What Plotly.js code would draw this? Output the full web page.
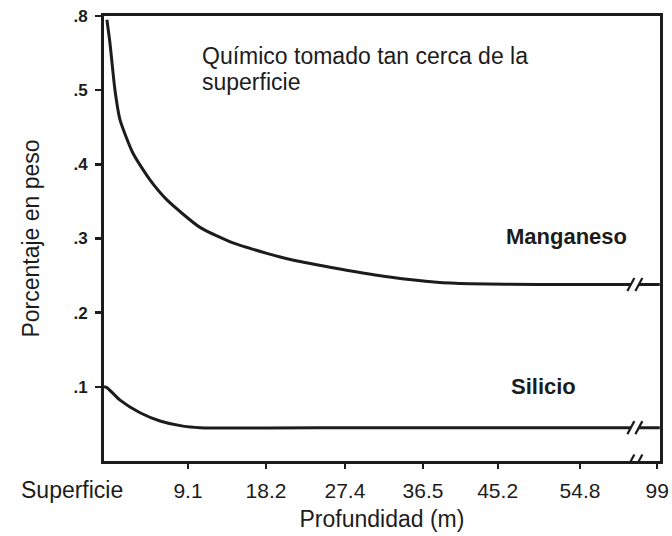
<!DOCTYPE html>
<html><head><meta charset="utf-8">
<script src="https://cdn.plot.ly/plotly-3.0.1.min.js"></script>
<style>body{margin:0;background:#fff}</style>
</head><body>
<div id="chart" style="width:672px;height:536px"></div>
<script>
// Depth (m, as placed on the drawn axis) and weight-percent values
const depthMn = [-0.35, 0.0, 0.59, 1.18, 2.69, 4.67, 6.65, 10.5, 14.35, 18.3, 21.3, 26.8, 32.6, 38.1, 42.0, 50.0, 61.2, 64.1];
const mnValues = [0.595, 0.564, 0.500, 0.460, 0.415, 0.379, 0.352, 0.315, 0.294, 0.280, 0.271, 0.259, 0.248, 0.241, 0.239, 0.238, 0.238, 0.238];
const depthSi = [-0.69, -0.35, 1.18, 3.51, 5.84, 8.52, 10.5, 30.0, 61.2, 64.1];
const siValues = [0.100, 0.099, 0.082, 0.065, 0.054, 0.047, 0.045, 0.045, 0.045, 0.045];

const xTickVals = [9.1, 18.2, 27.4, 36.5, 45.2, 54.8, 63.8];
const xTickText = ['9.1', '18.2', '27.4', '36.5', '45.2', '54.8', '99'];
const yTickVals = [0.1, 0.2, 0.3, 0.4, 0.5, 0.6];
const yTickText = ['.1', '.2', '.3', '.4', '.5', '.8'];
const breakDepth = 61.2;
const breakLevels = [0.238, 0.045, 0];

const ink = '#1c1c1c';
const FONT = 'Liberation Sans, Arial, sans-serif';

const traces = [
  {x: depthMn, y: mnValues, mode: 'lines', line: {color: ink, width: 3, shape: 'spline', smoothing: 0.6}, hoverinfo: 'skip', showlegend: false},
  {x: depthSi, y: siValues, mode: 'lines', line: {color: ink, width: 3, shape: 'spline', smoothing: 0.6}, hoverinfo: 'skip', showlegend: false}
];

const shapes = [];
breakLevels.forEach(function (lv) {
  // white gap
  shapes.push({type: 'rect', xref: 'x', yref: 'y', xsizemode: 'pixel', ysizemode: 'pixel',
    xanchor: breakDepth, yanchor: lv, x0: -4, x1: 4, y0: -2.5, y1: 2.5,
    fillcolor: '#fff', line: {width: 0}, layer: 'above'});
  // two slashes
  [-4, 4].forEach(function (dx) {
    shapes.push({type: 'line', xref: 'x', yref: 'y', xsizemode: 'pixel', ysizemode: 'pixel',
      xanchor: breakDepth, yanchor: lv, x0: dx - 3.5, x1: dx + 3.5, y0: -6.5, y1: 6.5,
      line: {color: ink, width: 2.2}, layer: 'above'});
  });
});

const layout = {
  width: 672, height: 536,
  margin: {l: 104, r: 12, t: 16, b: 75},
  paper_bgcolor: '#fff', plot_bgcolor: '#fff',
  font: {family: FONT, color: ink},
  xaxis: {
    range: [-0.69, 64.13], showgrid: false, zeroline: false,
    showline: true, mirror: true, linecolor: ink, linewidth: 3,
    tickmode: 'array', tickvals: xTickVals, ticktext: xTickText,
    ticks: 'outside', ticklen: 5, tickwidth: 2, tickcolor: ink,
    ticklabelstandoff: 4,
    tickfont: {family: FONT, size: 21, color: ink},
    title: {text: 'Profundidad (m)', font: {family: FONT, size: 23, color: ink}, standoff: 10}
  },
  yaxis: {
    range: [0, 0.6], showgrid: false, zeroline: false,
    showline: true, mirror: true, linecolor: ink, linewidth: 3,
    tickmode: 'array', tickvals: yTickVals, ticktext: yTickText,
    ticks: 'outside', ticklen: 6, tickwidth: 2.5, tickcolor: ink,
    ticklabelstandoff: 4,
    tickfont: {family: FONT, size: 17, color: ink, weight: 'bold'},
    title: {text: 'Porcentaje en peso', font: {family: FONT, size: 23, color: ink}, standoff: 28}
  },
  shapes: shapes,
  annotations: [
    {text: 'Superficie', xref: 'paper', yref: 'paper', x: -0.0576, y: -0.065, xanchor: 'center', yanchor: 'middle', showarrow: false, font: {family: FONT, size: 23, color: ink}},
    {text: 'Químico tomado tan cerca de la', xref: 'paper', yref: 'paper', x: 0.1727, y: 0.9101, xanchor: 'left', yanchor: 'middle', showarrow: false, font: {family: FONT, size: 23, color: ink}},
    {text: 'superficie', xref: 'paper', yref: 'paper', x: 0.1727, y: 0.8517, xanchor: 'left', yanchor: 'middle', showarrow: false, font: {family: FONT, size: 23, color: ink}},
    {text: 'Manganeso', xref: 'paper', yref: 'paper', x: 0.8327, y: 0.5056, xanchor: 'center', yanchor: 'middle', showarrow: false, font: {family: FONT, size: 22, color: ink, weight: 'bold'}},
    {text: 'Silicio', xref: 'paper', yref: 'paper', x: 0.791, y: 0.1685, xanchor: 'center', yanchor: 'middle', showarrow: false, font: {family: FONT, size: 22, color: ink, weight: 'bold'}}
  ]
};

Plotly.newPlot('chart', traces, layout, {displayModeBar: false, staticPlot: true});
</script>
</body></html>
